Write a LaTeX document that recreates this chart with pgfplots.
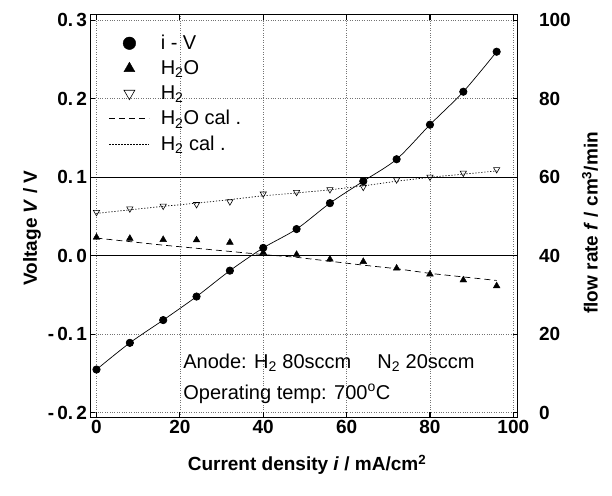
\documentclass[border=0pt]{standalone}
\usepackage{fontspec}
\setmainfont{Liberation Sans}
\usepackage{pgfplots}
\pgfplotsset{compat=1.18}

\pgfplotsset{
  common/.style={
    scale only axis,
    width=427pt, height=402pt,
    xmin=-1.44, xmax=101,
    tick align=inside,
    major tick length=5pt,
    every tick/.style={black, line width=1.2pt},
    axis line style={line width=1pt},
    tick label style={font=\bfseries\fontsize{19}{22}\selectfont},
    /pgf/number format/assume math mode=true,
  },
  legend image code/.code={\draw[mark repeat=2,mark phase=2,#1] plot coordinates {(0pt,0pt)(20pt,0pt)(40pt,0pt)};},
}

\begin{document}
\begin{tikzpicture}

% left axis: voltage
\begin{axis}[
  common,
  name=main,
  ymin=-0.2055, ymax=0.3068,
  xtick={0,20,...,100},
  ytick={-0.2,-0.1,0,0.1,0.2,0.3},
  yticklabels={-\,0.\,2,-\,0.\,1,0.\,0,0.\,1,0.\,2,0.\,3},
  ytick pos=left,
  grid=major,
  grid style={dotted, black!55, line width=0.7pt},
  extra y ticks={0,0.1},
  extra y tick labels={},
  extra y tick style={grid=major, grid style={solid, black, line width=0.8pt}, major tick length=0pt},
  xlabel={Current density \textit{i} / mA/cm\textsuperscript{2}},
  ylabel={Voltage \textit{V} / V},
  every axis x label/.style={at={(axis description cs:0.507,-0.119)}, anchor=center,
    font=\bfseries\fontsize{19}{22}\selectfont},
  every axis y label/.style={at={(axis description cs:-0.137,0.47)}, anchor=center, rotate=90,
    font=\bfseries\fontsize{19}{22}\selectfont},
]
\addplot[black, line width=0.7pt, smooth, mark=*, mark size=3.7pt] coordinates {
  (0,-0.145) (8,-0.111) (16,-0.082) (24,-0.052) (32,-0.019) (40,0.010)
  (48,0.034) (56,0.067) (64,0.095) (72,0.123) (80,0.167) (88,0.209) (96,0.260)
};
\node[anchor=west, inner sep=0pt, font=\fontsize{20}{22}\selectfont] at (axis cs:20.8,-0.136)
  {Anode: H\textsubscript{2} 80sccm\hspace{1.3em}N\textsubscript{2} 20sccm};
\node[anchor=west, inner sep=0pt, font=\fontsize{20}{22}\selectfont] at (axis cs:20.8,-0.176)
  {Operating temp: 700\textsuperscript{o}C};
\end{axis}

% right axis: flow rate
\begin{axis}[
  common,
  ymin=-1.1, ymax=101.36,
  axis x line=none,
  axis y line*=right,
  ytick={0,20,...,100},
  yticklabel style={xshift=18pt},
  ylabel={flow rate \textit{f} / cm\textsuperscript{3}/min},
  every axis y label/.style={at={(axis description cs:1.17,0.483)}, anchor=center, rotate=90,
    font=\bfseries\fontsize{19}{22}\selectfont},
  legend style={draw=none, fill=none, at={(axis description cs:0.036,0.96)}, anchor=north west,
    font=\fontsize{20}{22}\selectfont, row sep=5.5pt, column sep=9pt, legend cell align=left},
  legend image post style={mark size=6.3pt},
]
\addlegendimage{black, only marks, mark=*}
\addlegendentry{i - V}
\addplot[black, only marks, mark=triangle*, mark size=3.9pt] coordinates {
  (0,44.7) (8,44.4) (16,44.1) (24,44.0) (32,43.4) (40,40.8) (48,40.3)
  (56,39.1) (64,38.5) (72,36.8) (80,35.3) (88,33.8) (96,32.3)
};
\addlegendentry{H\textsubscript{2}O}
\addplot[black, only marks, mark=triangle, mark size=3.6pt, mark options={rotate=180, line width=0.6pt}] coordinates {
  (0,51.1) (8,52.0) (16,52.7) (24,53.1) (32,53.8) (40,55.8) (48,56.2)
  (56,56.9) (64,57.5) (72,59.4) (80,60.1) (88,61.1) (96,62.0)
};
\addlegendentry{H\textsubscript{2}}
\addplot[black, line width=0.7pt, dash pattern=on 6pt off 4pt] coordinates {
  (0,44.5) (8,43.6) (16,42.7) (24,41.9) (32,41.1) (40,40.3) (48,39.6)
  (56,38.6) (64,37.6) (72,36.7) (80,35.5) (88,34.6) (96,33.7)
};
\addlegendentry{H\textsubscript{2}O cal .}
\addplot[black, line width=0.7pt, dash pattern=on 1.2pt off 1.8pt] coordinates {
  (0,50.8) (8,51.7) (16,52.6) (24,53.4) (32,54.3) (40,55.3) (48,56.0)
  (56,56.8) (64,57.8) (72,59.0) (80,60.0) (88,60.8) (96,61.6)
};
\addlegendentry{H\textsubscript{2} cal .}
\end{axis}

\pgfresetboundingbox
\path ([shift={(-90.5pt,-78pt)}]main.south west) rectangle ([shift={(94.5pt,15pt)}]main.north east);
\end{tikzpicture}
\end{document}
